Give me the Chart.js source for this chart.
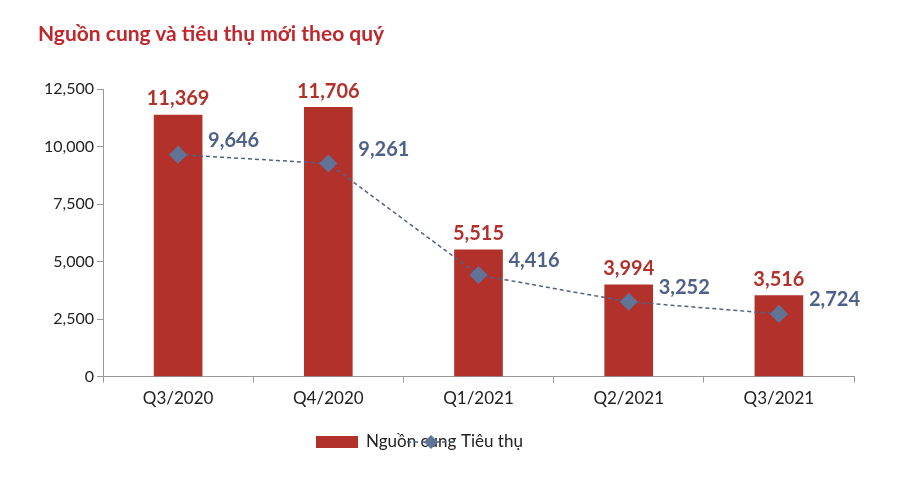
<!DOCTYPE html>
<html><head><meta charset="utf-8">
<script src="https://cdn.jsdelivr.net/npm/chart.js@4"></script>
<style>body{margin:0;background:#fff}#wrap{width:900px;height:479px;position:relative}
#title{position:absolute;left:38px;top:20px;font:bold 21px Lato;color:#C0272D}</style>
</head><body><div id="wrap"><div id="title">Nguồn cung và tiêu thụ mới theo quý</div><canvas id="c" width="900" height="479"></canvas></div>
<script>
const quarters = ['Q3/2020', 'Q4/2020', 'Q1/2021', 'Q2/2021', 'Q3/2021'];
const supply = [11369, 11706, 5515, 3994, 3516];
const consumption = [9646, 9261, 4416, 3252, 2724];

const labelPlugin = {
    id: 'labels',
    afterDatasetsDraw(chart) {
        const ctx = chart.ctx;
        ctx.save();
        ctx.font = 'bold 20px Lato';
        chart.getDatasetMeta(0).data.forEach((bar, i) => {
            ctx.fillStyle = '#B3312B';
            ctx.textAlign = 'center';
            ctx.textBaseline = 'bottom';
            ctx.fillText(supply[i].toLocaleString('en-US'), bar.x, bar.y - 6);
        });
        chart.getDatasetMeta(1).data.forEach((pt, i) => {
            ctx.fillStyle = '#4F6188';
            ctx.textAlign = 'left';
            ctx.textBaseline = 'middle';
            ctx.fillText(consumption[i].toLocaleString('en-US'), pt.x + 30, pt.y - 14);
        });
        // legend
        const ly = 442;
        ctx.fillStyle = '#B3312B';
        ctx.fillRect(316, ly - 6, 42, 12);
        ctx.font = '17px Lato';
        ctx.fillStyle = '#222';
        ctx.fillText('Nguồn cung', 366, ly);
        ctx.strokeStyle = '#4F6188';
        ctx.lineWidth = 1.5;
        ctx.setLineDash([4, 3]);
        ctx.beginPath(); ctx.moveTo(407, ly); ctx.lineTo(455, ly); ctx.stroke();
        ctx.setLineDash([]);
        ctx.fillStyle = '#5F7497';
        ctx.beginPath(); ctx.moveTo(431, ly - 7); ctx.lineTo(438, ly); ctx.lineTo(431, ly + 7); ctx.lineTo(424, ly); ctx.closePath(); ctx.fill();
        ctx.fillStyle = '#222';
        ctx.fillText('Tiêu thụ', 461, ly);
        ctx.restore();
    }
};

new Chart(document.getElementById('c'), {
    data: {
        labels: quarters,
        datasets: [{
            type: 'bar',
            label: 'Nguồn cung',
            data: supply,
            backgroundColor: '#B3312B',
            barThickness: 48,
            order: 2
        }, {
            type: 'line',
            label: 'Tiêu thụ',
            data: consumption,
            borderColor: '#4F6188',
            borderWidth: 1.5,
            borderDash: [4, 3],
            pointStyle: 'rectRot',
            pointRadius: 8,
            pointBackgroundColor: '#5F7497',
            pointBorderColor: '#5F7497',
            order: 1
        }]
    },
    options: {
        responsive: false,
        animation: false,
        layout: { padding: { top: 89, right: 46, bottom: 64, left: 20 } },
        scales: {
            x: {
                grid: { display: true, drawOnChartArea: false, offset: true, color: '#999', tickLength: 6 },
                border: { color: '#999' },
                ticks: { color: '#222', font: { family: 'Lato', size: 17 }, padding: 6 }
            },
            y: {
                min: 0, max: 12500,
                afterFit(s) { s.width = 83; },
                grid: { drawOnChartArea: false, color: '#999', tickLength: 6 },
                border: { color: '#999' },
                ticks: {
                    stepSize: 2500, color: '#222', font: { family: 'Lato', size: 16 },
                    callback: v => v.toLocaleString('en-US')
                }
            }
        },
        plugins: {
            legend: { display: false },
            tooltip: { enabled: false }
        }
    },
    plugins: [labelPlugin]
});
</script></body></html>
